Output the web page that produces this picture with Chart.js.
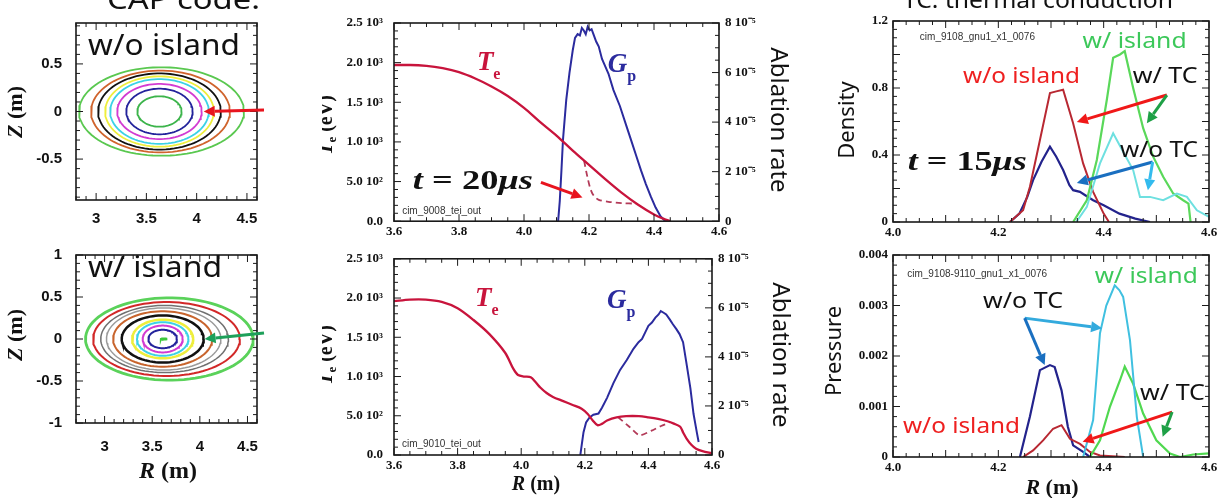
<!DOCTYPE html>
<html>
<head>
<meta charset="utf-8">
<script src="https://cdn.jsdelivr.net/npm/chart.js@4.4.0/dist/chart.umd.min.js"></script>
<style>
  body { margin: 0; background: #fff; }
  #fig { position: relative; width: 1226px; height: 498px; overflow: hidden; background: #fff; }
  #fig canvas { position: absolute; }
</style>
</head>
<body>
<div id="fig">
  <canvas id="surfA" width="300" height="232" style="left:0;top:0"></canvas>
  <canvas id="surfB" width="300" height="266" style="left:0;top:232px"></canvas>
  <canvas id="teA" width="478" height="240" style="left:322px;top:0"></canvas>
  <canvas id="teB" width="478" height="258" style="left:322px;top:240px"></canvas>
  <canvas id="dens" width="416" height="240" style="left:810px;top:0"></canvas>
  <canvas id="pres" width="416" height="258" style="left:810px;top:240px"></canvas>
</div>
<script>
// ---- flux surfaces (centre R, half width, half height) ----
const surfA_R0 = [3.63, 3.63, 3.63, 3.63, 3.63, 3.63, 3.64, 3.65];
const surfA_a  = [0.22, 0.33, 0.42, 0.49, 0.54, 0.61, 0.69, 0.82];
const surfA_b  = [0.16, 0.24, 0.29, 0.34, 0.37, 0.40, 0.43, 0.465];
const surfB_R0 = [3.62, 3.61, 3.61, 3.61, 3.61, 3.61, 3.61, 3.62, 3.63, 3.65, 3.68];
const surfB_a  = [0.03, 0.15, 0.21, 0.27, 0.32, 0.43, 0.52, 0.60, 0.67, 0.77, 0.88];
const surfB_b  = [0.006, 0.11, 0.16, 0.20, 0.23, 0.28, 0.33, 0.37, 0.40, 0.44, 0.49];

// ---- Te (eV) and ablation rate (x1e-5), t = 20us ----
const teA_R = [3.6, 3.65, 3.7, 3.75, 3.8, 3.85, 3.9, 3.95, 4.0, 4.05, 4.1, 4.15, 4.2, 4.25, 4.3, 4.35, 4.4, 4.43, 4.45];
const teA   = [1970, 1970, 1960, 1930, 1880, 1800, 1700, 1580, 1430, 1250, 1080, 890, 710, 530, 360, 210, 85, 30, 0];
const teA_dashR = [4.185, 4.195, 4.205, 4.215, 4.23, 4.26, 4.3, 4.345];
const teA_dash  = [760, 560, 400, 320, 270, 245, 228, 222];
const gpA_R = [4.105, 4.11, 4.115, 4.12, 4.13, 4.14, 4.15, 4.157, 4.165, 4.172, 4.178, 4.184, 4.19, 4.196, 4.202, 4.208,
               4.215, 4.222, 4.23, 4.24, 4.25, 4.26, 4.275, 4.295, 4.315, 4.33, 4.345, 4.36, 4.375, 4.39, 4.405, 4.42, 4.435];
const gpA   = [0, 0.8, 2.0, 3.3, 4.9, 6.0, 6.9, 7.4, 7.55, 7.5, 7.8, 7.7, 7.55, 7.85, 7.7, 7.75,
               7.5, 7.25, 7.05, 6.55, 6.25, 5.95, 5.3, 4.65, 3.85, 3.25, 2.65, 2.05, 1.5, 1.0, 0.55, 0.2, 0];

// ---- Te (eV) and ablation rate (x1e-5), with island ----
const teB_R = [3.6, 3.65, 3.7, 3.75, 3.8, 3.85, 3.9, 3.95, 3.975, 3.99, 4.01, 4.03, 4.045, 4.06, 4.08, 4.1, 4.13, 4.16,
               4.19, 4.21, 4.225, 4.24, 4.255, 4.27, 4.3, 4.33, 4.37, 4.4, 4.43, 4.46, 4.48, 4.5, 4.51, 4.52, 4.535, 4.55, 4.57, 4.6];
const teB   = [1960, 1980, 1980, 1950, 1870, 1720, 1540, 1300, 1100, 1020, 1000, 990, 930, 860, 790, 740, 690, 640,
               590, 520, 440, 380, 400, 440, 480, 495, 495, 480, 460, 430, 400, 360, 280, 210, 130, 80, 50, 20];
const teB_dashR = [4.305, 4.34, 4.372, 4.41, 4.44, 4.465];
const teB_dash  = [480, 360, 250, 310, 370, 410];
const gpB_R = [4.186, 4.191, 4.196, 4.204, 4.215, 4.227, 4.243, 4.254, 4.27, 4.29, 4.311, 4.332, 4.353, 4.369, 4.38, 4.39,
               4.4, 4.411, 4.422, 4.432, 4.439, 4.448, 4.456, 4.467, 4.477, 4.488, 4.498, 4.509, 4.519, 4.532, 4.542, 4.553, 4.558];
const gpB   = [0, 0.47, 0.93, 1.33, 1.53, 1.64, 1.69, 1.93, 2.33, 2.93, 3.47, 3.87, 4.33, 4.6, 4.73, 5.0,
               5.27, 5.4, 5.6, 5.73, 5.87, 5.8, 5.73, 5.53, 5.33, 5.13, 4.93, 4.6, 3.8, 2.73, 1.67, 0.87, 0.53];

// ---- pellet density, t = 15us ----
const dRed_R  = [4.222, 4.247, 4.26, 4.279, 4.298, 4.31, 4.323, 4.342, 4.361, 4.38, 4.4, 4.41];
const dRed    = [0, 0.07, 0.21, 0.49, 0.77, 0.78, 0.79, 0.59, 0.35, 0.18, 0.05, 0];
const dNavy_R = [4.222, 4.24, 4.255, 4.266, 4.282, 4.298, 4.31, 4.323, 4.335, 4.342, 4.355, 4.365, 4.38, 4.4, 4.43, 4.46, 4.488];
const dNavy   = [0, 0.05, 0.15, 0.25, 0.36, 0.45, 0.39, 0.31, 0.22, 0.19, 0.18, 0.16, 0.13, 0.1, 0.05, 0.02, 0];
const dGreen_R = [4.342, 4.368, 4.387, 4.406, 4.418, 4.431, 4.44, 4.456, 4.475, 4.494, 4.513, 4.532, 4.551, 4.561, 4.565];
const dGreen   = [0, 0.13, 0.37, 0.73, 0.98, 1.0, 1.02, 0.8, 0.56, 0.39, 0.27, 0.17, 0.13, 0.11, 0];
const dCyan_R = [4.348, 4.368, 4.393, 4.418, 4.437, 4.456, 4.469, 4.488, 4.513, 4.539, 4.558, 4.577, 4.6];
const dCyan   = [0, 0.09, 0.35, 0.53, 0.42, 0.31, 0.15, 0.15, 0.13, 0.17, 0.15, 0.07, 0.03];

// ---- pellet pressure ----
const pNavy_R = [4.241, 4.26, 4.279, 4.298, 4.307, 4.32, 4.332, 4.342, 4.361, 4.374];
const pNavy   = [0, 0.0008, 0.00172, 0.00182, 0.00178, 0.00132, 0.0006, 0.00023, 0.0001, 0];
const pRed_R  = [4.247, 4.266, 4.285, 4.304, 4.32, 4.336, 4.355, 4.374, 4.393, 4.44];
const pRed    = [0, 0.00013, 0.00033, 0.00056, 0.00063, 0.00036, 0.00026, 0.0001, 0.00003, 0];
const pCyan_R = [4.361, 4.38, 4.393, 4.405, 4.421, 4.43, 4.437, 4.45, 4.463, 4.475];
const pCyan   = [0, 0.00073, 0.00245, 0.003, 0.0034, 0.0033, 0.00317, 0.00231, 0.00079, 0];
const pGreen_R = [4.374, 4.393, 4.412, 4.431, 4.44, 4.456, 4.475, 4.5, 4.526, 4.545, 4.57, 4.6];
const pGreen   = [0, 0.00033, 0.001, 0.00152, 0.00179, 0.00145, 0.00086, 0.00033, 0.00007, 0, 0.00005, 0.00007];

// ---- tick values ----
const surfTicksR = [3, 3.5, 4, 4.5];
const surfA_TicksZ = [-0.5, 0, 0.5];
const surfB_TicksZ = [-1, -0.5, 0, 0.5, 1];
const teTicksR = [3.6, 3.8, 4.0, 4.2, 4.4, 4.6];
const teTicks = [0, 500, 1000, 1500, 2000, 2500];
const gpTicks = [0, 2, 4, 6, 8];
const pelTicksR = [4.0, 4.2, 4.4, 4.6];
const densTicks = [0, 0.4, 0.8, 1.2];
const presTicks = [0, 0.001, 0.002, 0.003, 0.004];

const serif = "'Liberation Serif','Times New Roman',serif";
const sans = "'Noto Sans','Open Sans',sans-serif";
const arial = "'Liberation Sans',Arial,sans-serif";
const sup = {'2': '\u00b2', '3': '\u00b3'};

// closed frame with inward minor/major ticks on every side
const frameTicks = {
  id: 'frameTicks',
  afterDatasetsDraw(chart, args, o) {
    const {ctx, chartArea: a, scales} = chart;
    ctx.save();
    ctx.strokeStyle = '#1a1a1a';
    ctx.lineWidth = 1;
    const run = (scale, step, side) => {
      if (!scale || !step) return;
      const [minor, major] = step;
      const i0 = Math.ceil(scale.min / minor - 1e-6), i1 = Math.floor(scale.max / minor + 1e-6);
      ctx.beginPath();
      for (let i = i0; i <= i1; i++) {
        const v = i * minor;
        const len = Math.abs(v / major - Math.round(v / major)) < 1e-6 ? 7 : 4;
        const p = scale.getPixelForValue(v);
        if (side === 'x') {
          ctx.moveTo(p, a.bottom); ctx.lineTo(p, a.bottom - len);
          ctx.moveTo(p, a.top); ctx.lineTo(p, a.top + len);
        }
        if (side === 'left' || side === 'both') { ctx.moveTo(a.left, p); ctx.lineTo(a.left + len, p); }
        if (side === 'right' || side === 'both') { ctx.moveTo(a.right, p); ctx.lineTo(a.right - len, p); }
      }
      ctx.stroke();
    };
    run(scales.x, o.x, 'x');
    run(scales.y, o.y, o.y2 ? 'left' : 'both');
    run(scales.y2, o.y2, 'right');
    ctx.lineWidth = 1.6;
    ctx.strokeRect(a.left, a.top, a.width, a.height);
    ctx.restore();
  }
};

// labels and arrows; "at"/"from"/"to" are data coordinates, "px"/"fromPx" are canvas pixels
const notes = {
  id: 'notes',
  afterDraw(chart, args, o) {
    const ctx = chart.ctx, sx = chart.scales.x, sy = chart.scales.y;
    const toPx = p => [sx.getPixelForValue(p[0]), sy.getPixelForValue(p[1])];
    for (const n of o.items || []) {
      ctx.save();
      if (n.to) {
        const [x1, y1] = n.fromPx || toPx(n.from), [x2, y2] = toPx(n.to);
        const ang = Math.atan2(y2 - y1, x2 - x1), hl = 11, hw = 5.5;
        const bx = x2 - hl * Math.cos(ang), by = y2 - hl * Math.sin(ang);
        ctx.strokeStyle = ctx.fillStyle = n.color;
        ctx.lineWidth = n.lw || 3;
        ctx.beginPath(); ctx.moveTo(x1, y1); ctx.lineTo(bx, by); ctx.stroke();
        ctx.beginPath(); ctx.moveTo(x2, y2);
        ctx.lineTo(bx + hw * Math.sin(ang), by - hw * Math.cos(ang));
        ctx.lineTo(bx - hw * Math.sin(ang), by + hw * Math.cos(ang));
        ctx.closePath(); ctx.fill();
      } else {
        const [x, y] = n.px || toPx(n.at);
        const runs = n.runs || [[n.text, n.font, 0]];
        ctx.translate(x, y);
        if (n.rot) ctx.rotate(n.rot);
        let total = 0;
        runs.forEach(r => { ctx.font = r[1]; total += ctx.measureText(r[0]).width; });
        if (n.w) ctx.scale(n.w / total, 1);
        let cx = n.align === 'center' ? -total / 2 : 0;
        ctx.fillStyle = n.color || '#111';
        ctx.textAlign = 'left';
        ctx.textBaseline = 'alphabetic';
        runs.forEach(r => { ctx.font = r[1]; ctx.fillText(r[0], cx, r[2] || 0); cx += ctx.measureText(r[0]).width; });
      }
      ctx.restore();
    }
  }
};

function axis(pos, min, max, ticks, fmt, size, pad, font) {
  return {
    type: 'linear', position: pos, min: min, max: max,
    grid: {display: false, drawTicks: false},
    border: {display: false},
    afterBuildTicks: s => { s.ticks = ticks.map(v => ({value: v})); },
    afterFit: s => { if (pos === 'bottom') s.height = size; else s.width = size; },
    ticks: {font: font, color: '#111', padding: pad, callback: fmt, autoSkip: false, maxRotation: 0}
  };
}

function line(xs, ys, color, w, extra) {
  return Object.assign({
    data: xs.map((x, i) => ({x: x, y: ys[i]})),
    showLine: true, borderColor: color, borderWidth: w, pointRadius: 0, tension: 0, fill: false
  }, extra || {});
}

function surface(r0, a, b, color, w) {
  const pts = [];
  for (let k = 0; k <= 90; k++) {
    const t = k * Math.PI / 45;
    pts.push({x: r0 + a * Math.cos(t), y: b * Math.sin(t)});
  }
  return {data: pts, showLine: true, borderColor: color, borderWidth: w, pointRadius: 0, tension: 0};
}

function makeChart(id, padTop, padRight, scales, datasets, ticks, items) {
  return new Chart(document.getElementById(id), {
    type: 'scatter',
    data: {datasets: datasets},
    options: {
      responsive: false, animation: false, devicePixelRatio: 1,
      layout: {padding: {top: padTop, right: padRight, left: 0, bottom: 0}},
      plugins: {legend: {display: false}, tooltip: {enabled: false}, frameTicks: ticks, notes: {items: items}},
      scales: scales
    },
    plugins: [frameTicks, notes]
  });
}

const surfFont = {family: arial, weight: 'bold', size: 15};
const numFont = {family: serif, weight: 'bold', size: 13};
const plain = v => String(v);
const oneDec = v => v.toFixed(1);
const teFmt = v => {
  if (v === 0) return '0.0';
  const e = Math.floor(Math.log10(v));
  return (v / Math.pow(10, e)).toFixed(1) + ' 10' + sup[e];
};
const gpFmt = v => v === 0 ? '0' : v + ' 10\u207b\u2075';

const zTitle = y => ({px: [22, y], rot: -Math.PI / 2, align: 'center',
  runs: [['Z', 'italic bold 22px ' + serif], [' (m)', 'bold 22px ' + serif]]});
const rTitle = (x, y, s) => ({px: [x, y], align: 'center',
  runs: [['R', 'italic bold ' + s + 'px ' + serif], [' (m)', 'bold ' + s + 'px ' + serif]]});
const teTitle = y => ({px: [10, y], rot: -Math.PI / 2, align: 'center',
  runs: [['T', 'italic bold 20px ' + serif], ['e', 'bold 13px ' + serif, 4], [' (eV)', 'bold 20px ' + serif]]});
const sub = (at, big, small, color) => ({at: at, color: color,
  runs: [[big, 'italic bold 27px ' + serif], [small, 'bold 16px ' + serif, 9]]});
const timeNote = (at, num, w) => ({at: at, w: w, color: '#111',
  runs: [['t', 'italic bold 27px ' + serif], [' = ', 'bold 27px ' + serif], [num, 'bold 27px ' + serif], ['\u03bcs', 'italic bold 27px ' + serif]]});

// --- flux surfaces without island ---
const surfA_col = ['#3cb44b', '#23239b', '#d23cd2', '#3cd2e6', '#eeee3c', '#111111', '#d0642d', '#5ac850'];
makeChart('surfA', 20, 43, {
  x: axis('bottom', 2.8, 4.6, surfTicksR, plain, 32, 10, surfFont),
  y: axis('left', -0.93, 0.93, surfA_TicksZ, plain, 76, 14, surfFont)
}, surfA_R0.map((r, i) => surface(r, surfA_a[i], surfA_b[i], surfA_col[i], 1.8)),
{x: [0.1, 0.5], y: [0.1, 0.5]}, [
  {px: [88, 55], text: 'w/o island', font: '29px ' + sans, w: 152},
  {px: [107, 9], text: 'CAP code.', font: '27px ' + sans, w: 153},
  zTitle(112),
  {fromPx: [264, 110], to: [4.07, 0], color: '#e8141e'}
]);

// --- flux surfaces with island ---
const surfB_col = ['#3cc83c', '#23239b', '#d23cd2', '#3cd2e6', '#eeee3c', '#111111', '#c8642d', '#9a9a9a', '#707070', '#d22828', '#5ad25a'];
const surfB_w = [2, 2, 2, 2, 2.5, 2.5, 2, 1.5, 1.5, 2, 2.8];
makeChart('surfB', 11, 43, {
  x: axis('bottom', 2.7, 4.6, surfTicksR, plain, 75, 15, surfFont),
  y: axis('left', -1, 1, surfB_TicksZ, plain, 76, 14, surfFont)
}, surfB_R0.map((r, i) => surface(r, surfB_a[i], surfB_b[i], surfB_col[i], surfB_w[i])),
{x: [0.1, 0.5], y: [0.1, 0.5]}, [
  {px: [88, 45], text: 'w/ island', font: '29px ' + sans, w: 134},
  zTitle(103),
  rTitle(168, 246, 24),
  {fromPx: [264, 101], to: [4.05, 0], color: '#1ea05a'}
]);

// --- Te and ablation rate, t = 20us ---
makeChart('teA', 23, 0, {
  x: axis('bottom', 3.6, 4.6, teTicksR, oneDec, 18, 3, numFont),
  y: axis('left', 0, 2500, teTicks, teFmt, 72, 11, numFont),
  y2: axis('right', 0, 8, gpTicks, gpFmt, 81, 6, numFont)
}, [
  line(teA_R, teA, '#c8143c', 2.3, {tension: 0.4, cubicInterpolationMode: 'monotone'}),
  line(teA_dashR, teA_dash, '#b33a58', 1.8, {borderDash: [6, 4], tension: 0.3}),
  line(gpA_R, gpA, '#2b2b9e', 2, {yAxisID: 'y2'})
], {x: [0.05, 0.2], y: [100, 500], y2: [0.5, 2]}, [
  sub([3.855, 1910], 'T', 'e', '#c8143c'),
  sub([4.258, 1884], 'G', 'p', '#2b2b9e'),
  timeNote([3.658, 402], '20', 120),
  {at: [3.625, 85], text: 'cim_9008_tei_out', font: '10px ' + arial, color: '#333'},
  {from: [4.052, 490], to: [4.18, 300], color: '#e8141e'},
  teTitle(125),
  {px: [449, 120], rot: Math.PI / 2, align: 'center', text: 'Ablation rate', font: '24px ' + sans}
]);

// --- Te and ablation rate, with island ---
makeChart('teB', 15, 0, {
  x: axis('bottom', 3.6, 4.6, teTicksR, oneDec, 43, 3, numFont),
  y: axis('left', 0, 2500, teTicks, teFmt, 72, 11, numFont),
  y2: axis('right', 0, 8, gpTicks, gpFmt, 88, 6, numFont)
}, [
  line(teB_R, teB, '#c8143c', 2.3, {tension: 0.3}),
  line(teB_dashR, teB_dash, '#b33a58', 1.8, {borderDash: [6, 4], tension: 0.2}),
  line(gpB_R, gpB, '#2b2b9e', 2, {yAxisID: 'y2'})
], {x: [0.05, 0.2], y: [100, 500], y2: [0.5, 2]}, [
  sub([3.855, 1900], 'T', 'e', '#c8143c'),
  sub([4.27, 1875], 'G', 'p', '#2b2b9e'),
  {at: [3.625, 100], text: 'cim_9010_tei_out', font: '10px ' + arial, color: '#333'},
  teTitle(115),
  {px: [451, 115], rot: Math.PI / 2, align: 'center', text: 'Ablation rate', font: '24px ' + sans},
  rTitle(214, 250, 20)
]);

// --- pellet density ---
makeChart('dens', 21, 17, {
  x: axis('bottom', 4.0, 4.6, pelTicksR, oneDec, 18, 3, numFont),
  y: axis('left', 0, 1.2, densTicks, v => v === 0 ? '0' : v.toFixed(1), 83, 5, numFont)
}, [
  line(dCyan_R, dCyan, '#6ee0e0', 2),
  line(dGreen_R, dGreen, '#5ad85a', 2.2),
  line(dRed_R, dRed, '#b82832', 2),
  line(dNavy_R, dNavy, '#23238c', 2.2)
], {x: [0.025, 0.1], y: [0.05, 0.2]}, [
  {px: [93, 8], text: 'TC: thermal conduction', font: '24px ' + sans, w: 270},
  {at: [4.051, 1.087], text: 'cim_9108_gnu1_x1_0076', font: '10px ' + arial, color: '#333'},
  {at: [4.36, 1.04], text: 'w/ island', font: '22px ' + sans, color: '#3cc85a', w: 104},
  {at: [4.133, 0.83], text: 'w/o island', font: '22px ' + sans, color: '#ee2020', w: 117},
  {at: [4.455, 0.83], text: 'w/ TC', font: '22px ' + sans, w: 65},
  {at: [4.431, 0.39], text: 'w/o TC', font: '22px ' + sans, w: 78},
  timeNote([4.028, 0.31], '15', 119),
  {from: [4.52, 0.758], to: [4.349, 0.597], color: '#f01818'},
  {from: [4.52, 0.758], to: [4.482, 0.59], color: '#1ea046'},
  {from: [4.493, 0.358], to: [4.349, 0.233], color: '#1a6fc0'},
  {from: [4.493, 0.358], to: [4.484, 0.19], color: '#33bbee'},
  {px: [44, 120], rot: -Math.PI / 2, align: 'center', text: 'Density', font: '22px ' + sans}
]);

// --- pellet pressure ---
makeChart('pres', 15, 17, {
  x: axis('bottom', 4.0, 4.6, pelTicksR, oneDec, 41, 3, numFont),
  y: axis('left', 0, 0.004, presTicks, v => v === 0 ? '0' : v.toFixed(3), 83, 5, numFont)
}, [
  line(pCyan_R, pCyan, '#40c0e0', 2),
  line(pGreen_R, pGreen, '#50d850', 2.2),
  line(pRed_R, pRed, '#b82832', 2),
  line(pNavy_R, pNavy, '#23238c', 2.2)
], {x: [0.025, 0.1], y: [0.0002, 0.001]}, [
  {at: [4.027, 0.00356], text: 'cim_9108-9110_gnu1_x1_0076', font: '10px ' + arial, color: '#333'},
  {at: [4.383, 0.00345], text: 'w/ island', font: '22px ' + sans, color: '#3cc85a', w: 103},
  {at: [4.171, 0.00295], text: 'w/o TC', font: '22px ' + sans, w: 80},
  {at: [4.469, 0.00113], text: 'w/ TC', font: '22px ' + sans, w: 65},
  {at: [4.019, 0.000475], text: 'w/o island', font: '22px ' + sans, color: '#ee2020', w: 117},
  {from: [4.25, 0.00275], to: [4.397, 0.00255], color: '#33aadd'},
  {from: [4.25, 0.00275], to: [4.288, 0.00182], color: '#1a6fc0'},
  {from: [4.53, 0.00089], to: [4.36, 0.0003], color: '#f01818'},
  {from: [4.53, 0.00089], to: [4.512, 0.0004], color: '#1ea046'},
  {px: [31, 111], rot: -Math.PI / 2, align: 'center', text: 'Pressure', font: '22px ' + sans},
  rTitle(242, 254, 22)
]);
</script>
</body>
</html>
